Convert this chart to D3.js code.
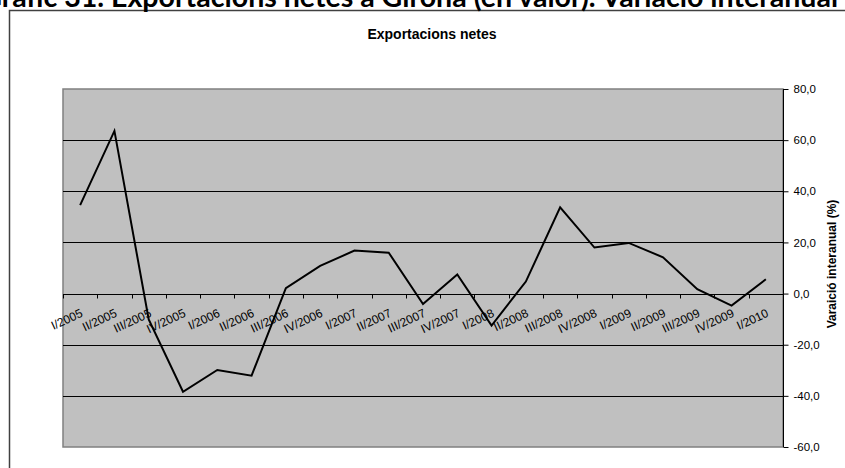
<!DOCTYPE html>
<html>
<head>
<meta charset="utf-8">
<script src="https://cdn.jsdelivr.net/npm/d3@7"></script>
<style>
  html, body { margin: 0; padding: 0; background: #fff; overflow: hidden; }
  svg { display: block; }
</style>
</head>
<body>
<svg id="chart" width="845" height="468"></svg>
<script>
const categories = ["I/2005","II/2005","III/2005","IV/2005","I/2006","II/2006","III/2006","IV/2006",
  "I/2007","II/2007","III/2007","IV/2007","I/2008","II/2008","III/2008","IV/2008",
  "I/2009","II/2009","III/2009","IV/2009","I/2010"];
const values = [34.6, 63.6, -10.1, -38.4, -29.9, -32.1, 2.1, 10.8,
  16.8, 16.0, -4.1, 7.5, -12.5, 4.7, 33.7, 18.0,
  19.8, 14.2, 1.7, -4.7, 5.6];
const yTicks = [-60, -40, -20, 0, 20, 40, 60, 80];
const mainTitle = "Gràfic 31. Exportacions netes a Girona (en valor). Variació interanual";
const chartTitle = "Exportacions netes";
const yAxisTitle = "Varaició interanual (%)";

const svg = d3.select("#chart");
const plot = { left: 63, right: 783, top: 89, bottom: 447 };

const x = d3.scaleBand().domain(categories).range([plot.left, plot.right]).paddingInner(0).paddingOuter(0);
const y = d3.scaleLinear().domain([-60, 80]).range([plot.bottom, plot.top]);

// outer chart frame
svg.append("rect").attr("x", 9.5).attr("y", 10.5).attr("width", 900).attr("height", 500)
  .attr("fill", "#fff").attr("stroke", "#404040").attr("stroke-width", 1.5);

// main title (clipped at top, as in the source page)
const mt = svg.append("text").attr("font-family", "Lato, 'Open Sans', sans-serif")
  .attr("font-weight", "bold").attr("font-size", 20).attr("fill", "#000")
  .attr("text-anchor", "end").attr("x", 838).attr("y", 7).text(mainTitle);
(function fit(){
  const node = mt.node();
  const full = node.getComputedTextLength();
  const gW = node.getSubStringLength(0, 1);
  const w = full - gW;
  const fs = 20 * 837 / w;
  mt.attr("font-size", fs);
})();

// plot background
svg.append("rect").attr("x", plot.left).attr("y", plot.top)
  .attr("width", plot.right - plot.left).attr("height", plot.bottom - plot.top)
  .attr("fill", "#c0c0c0").attr("stroke", "#808080").attr("stroke-width", 1.5);

// gridlines
svg.append("g").selectAll("line").data(yTicks.filter(d => d > -60 && d < 80)).join("line")
  .attr("x1", plot.left).attr("x2", plot.right)
  .attr("y1", d => Math.round(y(d)) + 0.5).attr("y2", d => Math.round(y(d)) + 0.5)
  .attr("stroke", "#000").attr("stroke-width", 1);

// right axis
const yAxis = d3.axisRight(y).tickValues(yTicks).tickSize(5).tickPadding(5)
  .tickFormat(d => d.toFixed(1).replace(".", ","));
const ya = svg.append("g").attr("transform", `translate(${plot.right + 0.5},0)`).call(yAxis);
ya.select(".domain").attr("stroke", "#000").attr("d", `M0,${plot.top}V${plot.bottom}`);
ya.selectAll(".tick line").attr("stroke", "#000");
ya.selectAll(".tick text").attr("font-family", "Arial, 'Liberation Sans', sans-serif")
  .attr("font-size", 11.5).attr("fill", "#000");

// category ticks at zero line
const y0 = Math.round(y(0)) + 0.5;
const boundaries = categories.map(c => x(c)).concat([x(categories[categories.length - 1]) + x.bandwidth()]);
svg.append("g").selectAll("line").data(boundaries).join("line")
  .attr("x1", d => Math.round(d) + 0.5).attr("x2", d => Math.round(d) + 0.5)
  .attr("y1", y0).attr("y2", y0 + 4).attr("stroke", "#000");

// category labels
svg.append("g").selectAll("text").data(categories).join("text")
  .attr("font-family", "Arial, 'Liberation Sans', sans-serif").attr("font-size", 12)
  .attr("fill", "#000").attr("text-anchor", "end")
  .attr("transform", d => `translate(${x(d) + x.bandwidth() / 2 + 3.5},${y0 + 21.5}) rotate(-25)`)
  .text(d => d);

// line
const line = d3.line().x((d, i) => x(categories[i]) + x.bandwidth() / 2).y(d => y(d));
svg.append("path").datum(values).attr("d", line)
  .attr("fill", "none").attr("stroke", "#000").attr("stroke-width", 2).attr("stroke-linejoin", "miter");

// chart title
svg.append("text").attr("x", 432).attr("y", 39).attr("text-anchor", "middle")
  .attr("font-family", "Arial, 'Liberation Sans', sans-serif").attr("font-weight", "bold")
  .attr("font-size", 14).attr("fill", "#000").text(chartTitle);

// y axis title
svg.append("text").attr("transform", "translate(836,264) rotate(-90)").attr("text-anchor", "middle")
  .attr("font-family", "Arial, 'Liberation Sans', sans-serif").attr("font-weight", "bold")
  .attr("font-size", 12).attr("fill", "#000").text(yAxisTitle);
</script>
</body>
</html>
